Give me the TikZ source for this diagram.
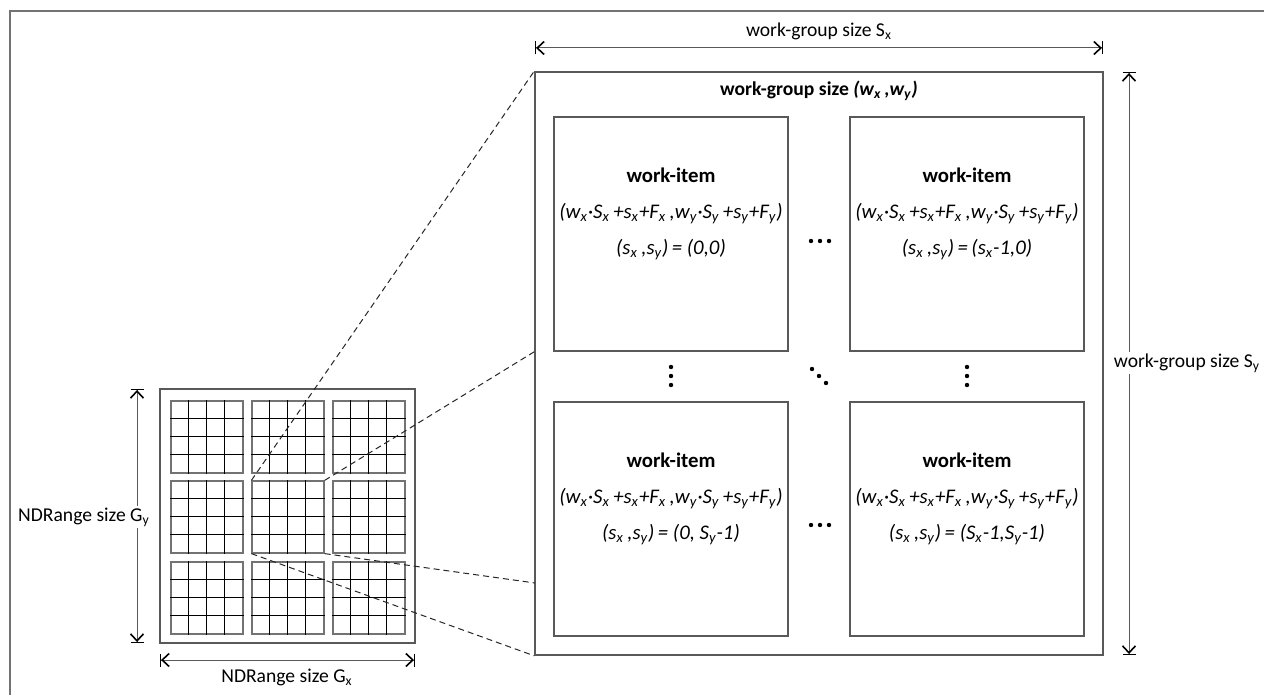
\documentclass[tikz,border=0pt]{standalone}
\usepackage{fontspec}
\setmainfont{Carlito}
\usetikzlibrary{arrows.meta,calc,positioning}
\newcommand{\sub}[1]{\textsubscript{#1}}
\newcommand{\wipos}{(w\sub{x}·S\sub{x}\,+s\sub{x}+F\sub{x}\,,w\sub{y}·S\sub{y}\,+s\sub{y}+F\sub{y})}

\begin{document}
\begin{tikzpicture}[x=0.5pt,y=-0.5pt,
  box/.style={draw=black!65,line width=0.8pt,inner sep=0pt},
  blockbox/.style={draw=black!55,line width=0.6pt,inner sep=0pt,minimum width=36pt,minimum height=36pt},
  gridline/.style={black,line width=0.6pt},
  dim/.style={black!65,line width=0.5pt,arrows={Bar[width=6.5pt,sep=0pt,black]Straight Barb[length=3.5pt,width=6.5pt,line width=0.8pt,sep=0pt,black]}-{Straight Barb[length=3.5pt,width=6.5pt,line width=0.8pt,sep=0pt,black]Bar[width=6.5pt,black]}},
  dimlabel/.style={fill=white,inner sep=1pt,font=\fontsize{9.8}{12}\selectfont},
  itemtext/.style={align=center,font=\fontsize{10.4}{18}\selectfont},
  zoomline/.style={black!85,line width=0.5pt,dash pattern=on 3pt off 2pt}
]
  \useasboundingbox (0,0) rectangle (1264,695);

  % frame
  \draw[black!55,line width=1pt] (1264,11) -- (10,11) -- (10,695);

  % NDRange with its 3x3 work-groups
  \node[box,minimum width=127.5pt,minimum height=127pt] (nd) at (287.5,516) {};
  \foreach \i in {0,1,2}
    \foreach \j/\cy in {0/437,1/517,2/598} {
      \node[blockbox] (b\i\j) at ({207+81*\i},\cy) {};
      \foreach \k in {9,18,27} {
        \draw[gridline] ([xshift=\k pt]b\i\j.north west) -- ([xshift=\k pt]b\i\j.south west);
        \draw[gridline] ([yshift=-\k pt]b\i\j.north west) -- ([yshift=-\k pt]b\i\j.north east);
      }
    }

  % work-group
  \node[box,minimum width=284pt,minimum height=291.5pt] (wg) at (819,363.5) {};
  \node[font=\bfseries\fontsize{9.8}{12}\selectfont] (wgtitle) at (819,91) {work-group size \textit{(w\sub{x}\,,w\sub{y})}};

  % work-items
  \node[box,minimum size=117pt] (wi00) at (671,234) {};
  \node[box,minimum size=117pt] (wi10) at (967,234) {};
  \node[box,minimum size=117pt] (wi01) at (671,519) {};
  \node[box,minimum size=117pt] (wi11) at (967,519) {};

  \node[itemtext] (t00) at (671,214) {\textbf{work-item}\\\textit{\wipos}\\\textit{(s\sub{x}\,,s\sub{y})\,= (0,0)}};
  \node[itemtext] (t10) at (967,214) {\textbf{work-item}\\\textit{\wipos}\\\textit{(s\sub{x}\,,s\sub{y})\,=\,(s\sub{x}-1,0)}};
  \node[itemtext] (t01) at (671,499) {\textbf{work-item}\\\textit{\wipos}\\\textit{(s\sub{x}\,,s\sub{y})\,= (0, S\sub{y}-1)}};
  \node[itemtext] (t11) at (967,499) {\textbf{work-item}\\\textit{\wipos}\\\textit{(s\sub{x}\,,s\sub{y})\,= (S\sub{x}-1,S\sub{y}-1)}};

  % dots
  \foreach \d in {811,820,829} {
    \fill (\d,241) circle[radius=1.1pt];
    \fill (\d,525) circle[radius=1.1pt];
  }
  \foreach \d in {367,376,385} {
    \fill (671,\d) circle[radius=1.1pt];
    \fill (967,\d) circle[radius=1.1pt];
  }
  \foreach \a/\b in {812/369,819/376,826/383} \fill (\a,\b) circle[radius=1.1pt];

  % zoom lines
  \coordinate (wgA) at (wg.west |- wi00.south);
  \coordinate (wgB) at (535,583);
  \draw[zoomline] (b11.north west) -- (wg.north west);
  \draw[zoomline] (b11.north east) -- (wgA);
  \draw[zoomline] (b11.south east) -- (wgB);
  \draw[zoomline] (b11.south west) -- (wg.south west);

  % sizes
  \coordinate (sxl) at (535,48);
  \coordinate (sxr) at (1103,48);
  \draw[dim] (sxl) -- (sxr);
  \node[dimlabel] (lsx) at (819,31) {work-group size S\sub{x}};

  \coordinate (syt) at (1129,72);
  \coordinate (syb) at (1129,655);
  \draw[dim] (syt) -- (syb);
  \node[dimlabel] (lsy) at (1187,363) {work-group size S\sub{y}};

  \coordinate (gyt) at (137,389);
  \coordinate (gyb) at (137,643);
  \draw[dim] (gyt) -- (gyb);
  \node[dimlabel] (lgy) at (84,517) {NDRange size G\sub{y}};

  \coordinate (gxl) at (160,660);
  \coordinate (gxr) at (415,660);
  \draw[dim] (gxl) -- (gxr);
  \node[dimlabel] (lgx) at (287,677) {NDRange size G\sub{x}};
\end{tikzpicture}
\end{document}
